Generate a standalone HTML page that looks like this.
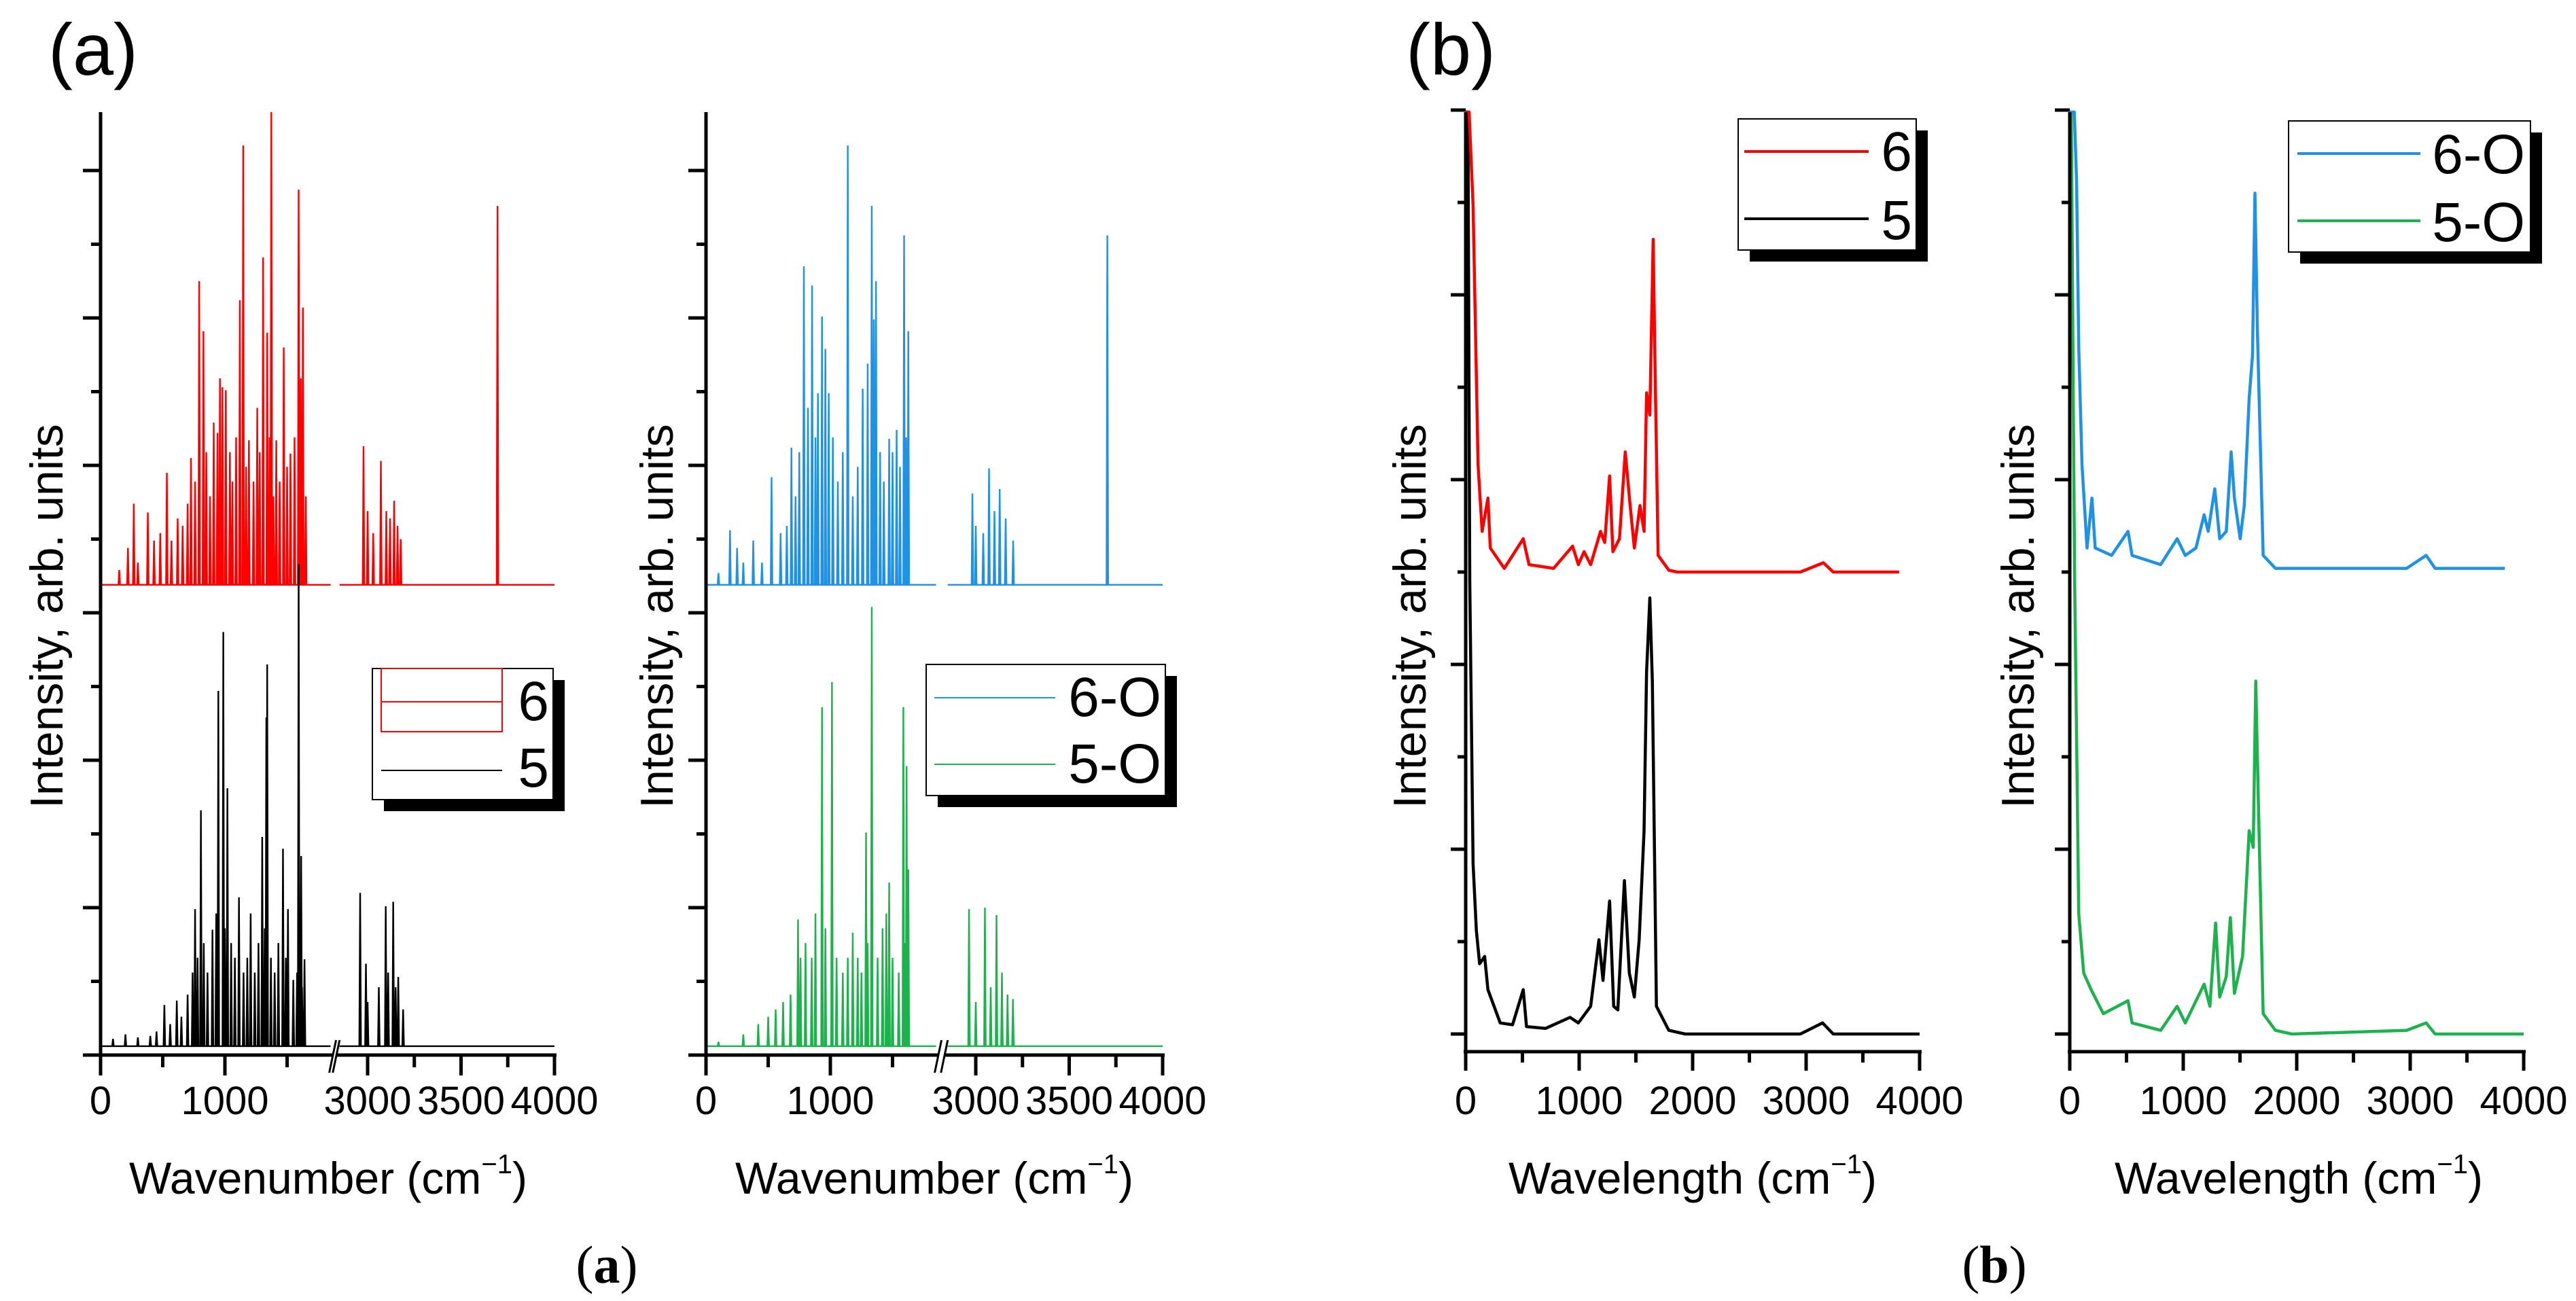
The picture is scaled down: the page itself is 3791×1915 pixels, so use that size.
<!DOCTYPE html>
<html><head><meta charset="utf-8">
<style>
html,body{margin:0;padding:0;background:#fff;}
svg{display:block;font-family:"Liberation Sans",Arial,sans-serif;}
</style></head>
<body>
<svg id="fig" width="3791" height="1915" viewBox="0 0 3791 1915" xmlns="http://www.w3.org/2000/svg">
<rect x="0" y="0" width="3791" height="1915" fill="#fff"/>
<text x="137" y="110" font-size="108" text-anchor="middle">(a)</text>
<text x="2135" y="110" font-size="108" text-anchor="middle">(b)</text>
<text x="893" y="1888" font-size="78" text-anchor="middle" font-family="Liberation Serif,serif">(<tspan font-weight="bold">a</tspan>)</text>
<text x="2935" y="1888" font-size="78" text-anchor="middle" font-family="Liberation Serif,serif">(<tspan font-weight="bold">b</tspan>)</text>
<g id="plots"></g>
</svg>
<script>
// ---------- Panel (a) stick spectra data: peak positions (cm-1) and heights (arb.) ----------
const redPos = [267,380,533,727,793,827,940,980,1007,1120,1147,1193,1307,1340,1373,1413,1473,1527,1593,1627,2978,3071,3142,3177,3695,
  150,220,300,430,480,570,620,660,700,760,850,880,910,960,1040,1060,1090,1170,1230,1260,1280,1360,1390,1440,1500,1560,1610,1650,3000,3030,3100,3120,3160];
const redH = [0.55,0.49,0.76,0.86,2.06,1.72,1.03,1.34,1.32,1.93,2.98,0.98,2.22,1.71,3.3,0.98,1.61,0.89,2.68,1.88,0.94,0.84,0.57,0.31,2.57,
  0.1,0.25,0.15,0.3,0.35,0.3,0.45,0.4,0.55,0.7,0.9,0.6,1.1,1.4,0.9,0.7,1.0,0.8,0.7,1.2,0.9,1.0,0.6,0.7,0.8,1.0,1.4,0.6,0.5,0.35,0.5,0.45,0.4];
const blackPos = [513,613,760,807,900,947,987,1020,1113,1207,1300,1333,1340,1467,1507,1593,1613,1640,2960,2991,3097,3137,3164,
  100,200,300,400,450,560,650,700,740,780,830,860,930,1000,1050,1080,1150,1180,1240,1270,1320,1370,1400,1430,1490,1550,1580,1620,3000,3060,3110,3150,3190];
const blackH = [0.28,0.31,0.93,1.60,0.79,2.41,2.81,1.75,1.01,0.90,1.42,2.23,2.59,1.34,0.93,3.27,1.29,0.59,1.04,0.56,0.95,0.98,0.47,
  0.05,0.08,0.06,0.07,0.1,0.15,0.2,0.35,0.5,0.6,0.7,0.5,0.9,0.8,0.7,0.6,0.5,0.6,0.5,0.7,0.8,0.6,0.5,0.7,0.6,0.45,0.5,0.4,0.3,0.4,0.5,0.4,0.25];
const bluePos = [193,527,687,787,853,933,987,1140,1260,1333,1367,1473,1533,1593,1627,2982,3071,3128,3704,
  100,250,300,380,450,600,650,720,750,820,880,900,960,1020,1060,1100,1180,1220,1300,1350,1400,1430,1500,1560,1610,3000,3040,3100,3160,3200];
const blueH = [0.37,0.73,0.93,2.16,2.03,1.82,1.30,2.98,1.33,2.57,2.06,0.99,1.05,2.37,1.72,0.62,0.79,0.65,2.37,
  0.08,0.25,0.15,0.3,0.15,0.35,0.4,0.6,0.9,1.2,1.0,1.3,1.6,1.0,0.7,0.9,0.6,0.8,1.5,1.8,0.9,0.7,0.9,0.8,1.0,0.4,0.35,0.5,0.45,0.3];
const greenPos = [740,933,1013,1180,1287,1333,1473,1587,1613,1627,2964,3049,3111,3199,
  100,300,420,500,560,620,680,760,800,850,880,960,1050,1100,1140,1220,1250,1300,1380,1420,1450,1500,1550,1600,3000,3080,3140,3170];
const greenH = [0.86,2.30,2.47,0.77,1.45,2.98,1.11,2.30,1.90,1.20,0.93,0.94,0.89,0.32,
  0.03,0.08,0.15,0.2,0.25,0.3,0.35,0.6,0.7,0.6,0.9,0.8,0.6,0.5,0.6,0.6,0.5,0.7,0.6,0.8,0.9,0.6,0.5,0.7,0.3,0.4,0.5,0.35];
const aOffsetTop = 3.19, aOffsetBottom = 0.06;
const aTicks = ["0","1000","3000","3500","4000"];
const aTickVals = [0,1000,3000,3500,4000];

// ---------- Panel (b) smooth spectra (cm-1, absolute intensity) ----------
const redX = [0,30,65,109,145,196,217,340,507,558,775,942,993,1043,1101,1188,1225,1268,1297,1355,1406,1449,1486,1536,1572,1594,1623,1652,1667,1696,1790,1862,2949,3152,3239,3819];
const redY = [5.3,5.3,4.48,3.08,2.72,2.90,2.63,2.52,2.68,2.54,2.52,2.64,2.54,2.61,2.54,2.72,2.66,3.02,2.61,2.68,3.15,2.86,2.63,2.86,2.72,3.47,3.35,4.30,3.67,2.59,2.51,2.50,2.50,2.55,2.50,2.50];
const blackX = [0,20,36,65,94,123,167,196,304,413,507,536,703,920,993,1101,1174,1210,1268,1304,1341,1399,1442,1486,1529,1572,1594,1623,1645,1681,1790,1935,2949,3145,3239,4000];
const blackY = [5.3,5.3,2.45,0.92,0.56,0.38,0.42,0.24,0.06,0.05,0.24,0.04,0.03,0.09,0.06,0.15,0.51,0.29,0.72,0.15,0.13,0.83,0.33,0.20,0.51,1.10,1.96,2.36,1.91,0.15,0.02,0,0,0.06,0,0];
const blueX = [0,40,60,79,108,152,195,224,368,513,549,801,946,1018,1112,1184,1220,1278,1321,1379,1422,1451,1502,1538,1581,1610,1632,1653,1704,1812,1957,2968,3141,3220,3834];
const blueY = [5.3,5.3,4.62,3.72,3.08,2.63,2.90,2.63,2.59,2.72,2.59,2.54,2.68,2.59,2.63,2.81,2.72,2.95,2.68,2.72,3.15,2.90,2.68,2.86,3.44,3.67,4.55,3.81,2.59,2.52,2.52,2.52,2.59,2.52,2.52];
const greenX = [0,14,30,43,79,123,188,296,513,549,801,946,1018,1184,1235,1285,1321,1379,1415,1451,1523,1581,1617,1639,1661,1704,1812,1957,2968,3141,3220,4000];
const greenY = [5.3,5.0,3.5,2.45,0.65,0.33,0.24,0.11,0.18,0.06,0.02,0.15,0.06,0.27,0.15,0.60,0.20,0.31,0.63,0.22,0.42,1.10,1.01,1.91,1.28,0.11,0.02,0,0.02,0.06,0,0];
const bTicks = ["0","1000","2000","3000","4000"];
const bTickVals = [0,1000,2000,3000,4000];

const NS = "http://www.w3.org/2000/svg";
const root = document.getElementById('plots');
function mk(tag, attrs, parent){const e=document.createElementNS(NS,tag);for(const k in attrs)e.setAttribute(k,attrs[k]);(parent||root).appendChild(e);return e;}

function yTitle(x, label){
  const t=mk('text',{x:x,y:907,'font-size':68,'text-anchor':'middle',transform:`rotate(-90 ${x} 907)`});
  t.textContent="Intensity, arb. units";
  
  
}
function xTitle(cx, word, label){
  const t=mk('text',{x:cx,y:1757,'font-size':66,'text-anchor':'middle'});
  
  
  t.appendChild(document.createTextNode(word+" (cm"));
  const s=document.createElementNS(NS,'tspan');s.setAttribute('font-size','40');s.setAttribute('dy','-30');s.textContent="\u22121";t.appendChild(s);
  const s2=document.createElementNS(NS,'tspan');s2.setAttribute('dy','30');s2.textContent=")";t.appendChild(s2);
}
function legend(x1,y1,x2,y2,entries,lw,tx,label){
  const g=mk('g',{});
  
  
  mk('rect',{x:x1+17,y:y1+17,width:x2-x1,height:y2-y1,fill:'#000'},g);
  mk('rect',{x:x1,y:y1,width:x2-x1,height:y2-y1,fill:'#fff',stroke:'#000','stroke-width':2},g);
  entries.forEach(en=>{
    if(en.rect){mk('rect',{x:en.lx1,y:en.ry1,width:en.lx2-en.lx1,height:en.ry2-en.ry1,fill:'none',stroke:en.c,'stroke-width':2},g);}
    const l=mk('line',{x1:en.lx1,x2:en.lx2,y1:en.ly,y2:en.ly,stroke:en.c,'stroke-width':lw},g);
    
    
    const t=mk('text',{x:tx,y:en.ty,'font-size':82,'text-anchor':'end'},g);
    t.textContent=en.t;
    
    
  });
}

// ---------- Panel (a) ----------
function panelA(ox, width, sTop, sBot, label){
  const X0=ox, s1=0.183, s2=0.275, XE=ox+width;
  const seg1Max=1850, seg2Min=2850;
  const xs=v=> v<=seg1Max ? X0+v*s1 : XE-(4000-v)*s2;
  const Y0=1553, U=217;
  const ys=v=> Y0-v*U;
  const TOP=165;
  const g=mk('g',{});
  
  
  function series(pos,h,off,color,name){
    const idx=pos.map((p,i)=>i).sort((a,b)=>pos[a]-pos[b]);
    [[0,seg1Max],[seg2Min,4000]].forEach(([lo,hi],si)=>{
      let d=`M${xs(lo)},${ys(off)}`;
      idx.forEach(i=>{ if(pos[i]>=lo&&pos[i]<=hi){const x=xs(pos[i]);const yt=Math.max(TOP,ys(off+h[i]));d+=` L${x-1.2},${ys(off)} L${x},${yt} L${x+1.2},${ys(off)}`;} });
      d+=` L${xs(hi)},${ys(off)}`;
      const p=mk('path',{d:d,fill:'none',stroke:color,'stroke-width':2.4,'stroke-linejoin':'miter'},g);
      
      
    });
  }
  series(sTop.pos,sTop.h,aOffsetTop,sTop.c,sTop.n);
  series(sBot.pos,sBot.h,aOffsetBottom,sBot.c,sBot.n);
  const ax=mk('line',{x1:X0,x2:X0,y1:TOP,y2:Y0+2,stroke:'#000','stroke-width':5},g);
  
  const bx1=xs(seg1Max)+4, bx2=xs(seg2Min)-4;
  mk('line',{x1:X0-22,x2:bx1,y1:Y0,y2:Y0,stroke:'#000','stroke-width':5},g);
  mk('line',{x1:bx2,x2:XE+3,y1:Y0,y2:Y0,stroke:'#000','stroke-width':5},g);
  mk('line',{x1:bx1+4,y1:Y0-22,x2:bx1-6,y2:Y0+26,stroke:'#000','stroke-width':3},g);
  mk('line',{x1:bx2+4,y1:Y0-22,x2:bx2-6,y2:Y0+26,stroke:'#000','stroke-width':3},g);
  for(let k=0;k<=12;k++){const v=k/2;const y=ys(v);if(y<TOP)continue;mk('line',{x1:X0-(k%2?14:26),x2:X0,y1:y,y2:y,stroke:'#000','stroke-width':5},g);}
  [0,500,1000,1500,3000,3250,3500,3750,4000].forEach(v=>{const major=[0,1000,3000,3500,4000].includes(v);mk('line',{x1:xs(v),x2:xs(v),y1:Y0,y2:Y0+(major?30:18),stroke:'#000','stroke-width':5},g);});
  aTickVals.forEach((v,i)=>{const t=mk('text',{x:xs(v),y:1640,'font-size':58,'text-anchor':'middle'},g);t.textContent=aTicks[i];
    });
}
panelA(148,668,{pos:redPos,h:redH,c:'#ff0000',n:'series-6'},{pos:blackPos,h:blackH,c:'#000',n:'series-5'},'chart-a-left');
panelA(1039,672,{pos:bluePos,h:blueH,c:'#1f92e6',n:'series-6-O'},{pos:greenPos,h:greenH,c:'#1cb24c',n:'series-5-O'},'chart-a-right');
yTitle(92,'y-axis-title-a-left'); yTitle(990,'y-axis-title-a-right');
xTitle(483,'Wavenumber','x-axis-title-a-left'); xTitle(1375,'Wavenumber','x-axis-title-a-right');
legend(548,984,814,1177,[{t:'6',c:'#ff0000',lx1:561,lx2:739,ly:1033,ty:1060,rect:true,ry1:984,ry2:1077},{t:'5',c:'#000',lx1:561,lx2:739,ly:1134,ty:1158}],2,808,'legend-a-left');
legend(1363,978,1715,1171,[{t:'6-O',c:'#1f92e6',lx1:1375,lx2:1553,ly:1027,ty:1054},{t:'5-O',c:'#1cb24c',lx1:1375,lx2:1553,ly:1125,ty:1152}],2,1709,'legend-a-right');

// ---------- Panel (b) ----------
function panelB(ox, width, sTop, sBot, label){
  const X0=ox, XE=ox+width;
  const xs=v=>X0+v*(XE-X0)/4000;
  const Y0=1522, U=272, TOP=165, AX=1548;
  const ys=v=>Math.max(TOP,Y0-v*U);
  const g=mk('g',{});
  
  
  [sBot,sTop].forEach(s=>{
    const d=s.x.map((v,i)=>(i?'L':'M')+xs(v).toFixed(1)+','+ys(s.y[i]).toFixed(1)).join(' ');
    const p=mk('path',{d:d,fill:'none',stroke:s.c,'stroke-width':4.5,'stroke-linejoin':'round'},g);
    
    
  });
  const ax=mk('line',{x1:X0,x2:X0,y1:TOP,y2:AX+2,stroke:'#000','stroke-width':5},g);
  
  mk('line',{x1:X0-3,x2:XE+3,y1:AX,y2:AX,stroke:'#000','stroke-width':5},g);
  for(let k=0;k<=10;k++){const y=Y0-(k/2)*U;mk('line',{x1:X0-(k%2?12:22),x2:X0,y1:y,y2:y,stroke:'#000','stroke-width':5},g);}
  for(let v=0;v<=4000;v+=500){mk('line',{x1:xs(v),x2:xs(v),y1:AX,y2:AX+(v%1000?16:28),stroke:'#000','stroke-width':5},g);}
  bTickVals.forEach((v,i)=>{const t=mk('text',{x:xs(v),y:1640,'font-size':58,'text-anchor':'middle'},g);t.textContent=bTicks[i];
    });
}
panelB(2157,668,{x:redX,y:redY,c:'#ff0000',n:'series-6'},{x:blackX,y:blackY,c:'#000',n:'series-5'},'chart-b-left');
panelB(3046,668,{x:blueX,y:blueY,c:'#1f92e6',n:'series-6-O'},{x:greenX,y:greenY,c:'#1cb24c',n:'series-5-O'},'chart-b-right');
yTitle(2098,'y-axis-title-b-left'); yTitle(2993,'y-axis-title-b-right');
xTitle(2491,'Wavelength','x-axis-title-b-left'); xTitle(3383,'Wavelength','x-axis-title-b-right');
legend(2558,175,2820,368,[{t:'6',c:'#ff0000',lx1:2567,lx2:2750,ly:223,ty:251},{t:'5',c:'#000',lx1:2567,lx2:2750,ly:322,ty:352}],4,2814,'legend-b-left');
legend(3368,178,3724,371,[{t:'6-O',c:'#1f92e6',lx1:3381,lx2:3562,ly:226,ty:255},{t:'5-O',c:'#1cb24c',lx1:3381,lx2:3562,ly:325,ty:355}],4,3716,'legend-b-right');
</script>
</body></html>
